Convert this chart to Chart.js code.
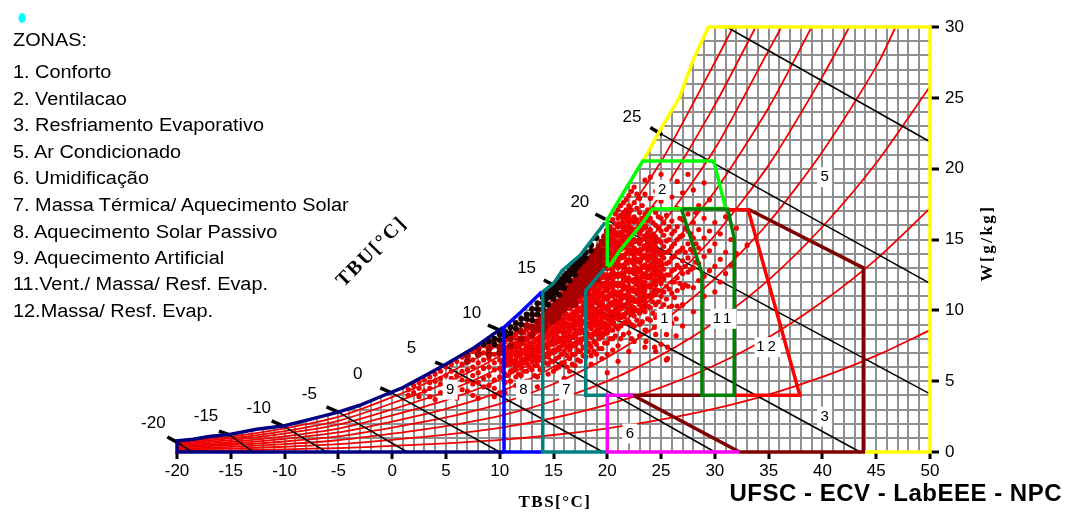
<!DOCTYPE html>
<html lang="pt">
<head>
<meta charset="utf-8">
<title>Carta psicrométrica</title>
<script src="https://cdn.jsdelivr.net/npm/chart.js@4"></script>
<style>
    html, body { margin: 0; padding: 0; background: #fff; }
    #wrap { position: relative; width: 1066px; height: 513px; overflow: hidden; }
    #zonas { position: absolute; left: 13px; top: 0; font-family: "Liberation Sans", Arial, sans-serif; font-size: 18px; color: #000; transform: scaleX(1.105); transform-origin: left top; }
    #zonas div { position: absolute; left: 0; white-space: nowrap; line-height: 20px; }
</style>
</head>
<body>
<div id="wrap">
    <canvas id="carta" width="1066" height="513"></canvas>
    <div id="zonas"></div>
</div>
<script>
// Legend
const zoneNames = [
    "ZONAS:", "1. Conforto", "2. Ventilacao", "3. Resfriamento Evaporativo", "5. Ar Condicionado",
    "6. Umidificação", "7. Massa Térmica/ Aquecimento Solar", "8. Aquecimento Solar Passivo",
    "9. Aquecimento Artificial", "11.Vent./ Massa/ Resf. Evap.", "12.Massa/ Resf. Evap.",
];
const zoneNameY = [40, 72, 99, 125, 152, 178, 205, 232, 258, 284, 311];

// Ticks
const tempTicks = [-20, -15, -10, -5, 0, 5, 10, 15, 20, 25, 30, 35, 40, 45, 50];
const humidityTicks = [0, 5, 10, 15, 20, 25, 30];

// Saturation curve [TBS, W]
const saturation = [
    [-20, 0.78], [-18.5, 0.9], [-17, 1.1], [-15, 1.25], [-12.6, 1.6], [-10, 1.85], [-7.9, 2.25], [-5.1, 2.8],
    [-3, 3.3], [-1.1, 3.9], [1, 4.55], [3.2, 5.45], [5, 6.2], [7.5, 7.3], [10.3, 8.8], [12, 9.9], [13.9, 11.3],
    [15, 11.9], [15.8, 12.8], [17.5, 13.9], [18.1, 14.5], [19.8, 16.2], [21.5, 18.3], [23.3, 20.5], [24.9, 22.7],
    [26.7, 25], [28, 27.7], [29.4, 30],
];

// Relative humidity curves: W at each TBS in rhTemps, last point is where the curve leaves the chart
const rhTemps = [-20, -15, -10, -5, 0, 5, 10, 15, 20, 25, 30, 35, 40, 45, 50];
const rh10 = [0.08, 0.12, 0.19, 0.28, 0.43, 0.61, 0.85, 1.2, 1.67, 2.28, 3.06, 4.05, 5.3, 6.8, 8.6];
const rh20 = [0.16, 0.24, 0.37, 0.55, 0.86, 1.22, 1.7, 2.4, 3.34, 4.56, 6.12, 8.1, 10.6, 13.6, 17.2];
const rh30 = [0.23, 0.36, 0.56, 0.83, 1.29, 1.83, 2.55, 3.6, 5.0, 6.84, 9.18, 12.15, 15.9, 20.4, 25.8];
const rh40 = [0.31, 0.48, 0.74, 1.1, 1.72, 2.44, 3.4, 4.8, 6.68, 9.12, 12.24, 16.2, 21.2, 27.2];
const rh50 = [0.39, 0.6, 0.93, 1.38, 2.15, 3.05, 4.25, 6.0, 8.35, 11.4, 15.3, 20.25, 26.5];
const rh60 = [0.47, 0.72, 1.11, 1.65, 2.58, 3.66, 5.1, 7.2, 10.0, 13.7, 18.4, 24.3];
const rh70 = [0.55, 0.84, 1.3, 1.93, 3.01, 4.27, 5.95, 8.4, 11.7, 16, 21.4, 28.35];
const rh80 = [0.62, 0.96, 1.48, 2.2, 3.44, 4.88, 6.8, 9.6, 13.4, 18.2, 24.5];
const rh90 = [0.7, 1.08, 1.67, 2.48, 3.87, 5.49, 7.65, 10.8, 15, 20.5, 27.5];
const rhExits = [null, null, null, [46.8, 30], [42.5, 30], [39, 30], [36.2, 30], [33.8, 30], [31.7, 30]];

// Wet bulb lines: stub outside the curve, start on the curve, end of the line
const wetBulbValues = [-20, -15, -10, -5, 0, 5, 10, 15, 20, 25];
const wetBulbStubs = [
    [-20.9, 1.06], [-16.1, 1.48], [-11.2, 2.19], [-6.1, 3.18], [-1.1, 4.52], [4, 6.35], [8.9, 8.96], [14.1, 12.14],
    [18.9, 16.8], [24, 22.9],
];
const wetBulbStarts = [
    [-20, 0.7], [-15.1, 1.2], [-10.1, 1.83], [-5, 2.82], [0, 4.16], [5.1, 6], [10, 8.6], [15.2, 11.7], [19.8, 16.44],
    [25.1, 22.4],
];
const wetBulbEnds = [
    [-18.6, 0], [-12.9, 0], [-6.1, 0], [1.4, 0], [10, 0], [19.6, 0], [30, 0], [43.5, 0], [50, 4.1], [50, 11.9],
];
const wetBulb30 = [[31.1, 30], [50, 21.9]];
const wetBulbLabels = [
    [-22.2, 2], [-17.3, 2.5], [-12.4, 3.1], [-7.7, 4.1], [-3.2, 5.5], [1.8, 7.3], [7.4, 9.8], [12.5, 13], [17.45, 17.6],
    [22.3, 23.6],
];

// Hourly readings, one row per TBS column: [TBS, [W, W, ...]]
const readingsCore = [
    [10.5, [7.0, 6.4]], [11, [7.2, 6.5]], [11.5, [7.5, 6.9, 6.2]], [12, [7.7, 7.0, 6.3]], [12.5, [8.0, 7.3, 6.6]],
    [13, [8.3, 7.6, 6.9]], [13.5, [8.6, 7.9, 7.2, 6.5]], [14, [8.8, 8.1, 7.4, 6.7]], [14.5, [9.0, 8.3, 7.6, 6.9]],
    [15, [9.2, 8.5, 7.8, 7.1]], [15.5, [9.4, 8.7, 8.0, 7.3]], [16, [9.8, 9.1, 8.4, 7.7]], [16.5, [10.2, 9.5, 8.8, 8.1, 7.4]],
    [17, [10.4, 9.7, 9.0, 8.3, 7.6]], [17.5, [10.7, 10.0, 9.3, 8.6, 7.9]], [18, [11.2, 10.5, 9.8, 9.1, 8.4]],
    [18.5, [11.7, 11.0, 10.3, 9.6, 8.9, 8.2]], [19, [12.0, 11.3, 10.6, 9.9, 9.2, 8.5]],
    [19.5, [12.5, 11.8, 11.1, 10.4, 9.7, 9.0, 8.3]], [20, [13.0, 12.3, 11.6, 10.9, 10.2, 9.5, 8.8]],
    [20.5, [15.4, 14.7, 14.0, 13.3, 12.6, 11.9, 11.2, 10.5, 9.8, 9.1]],
    [21, [16.0, 15.3, 14.6, 13.9, 13.2, 12.5, 11.8, 11.1, 10.4, 9.7]],
    [21.5, [16.6, 15.9, 15.2, 14.5, 13.8, 13.1, 12.4, 11.7, 11.0, 10.3, 9.6]],
    [22, [17.0, 16.3, 15.6, 14.9, 14.2, 13.5, 12.8, 12.1, 11.4, 10.7, 10.0]],
    [22.5, [16.3, 15.6, 14.9, 14.2, 13.5, 12.8, 12.1, 11.4, 10.7, 10.0]], [23, [15.6, 14.9, 14.2, 13.5, 12.8, 12.1, 11.4, 10.7]],
    [23.5, [15.9, 15.2, 14.5, 13.8, 13.1, 12.4, 11.7, 11.0, 10.3]], [24, [15.2, 14.5, 13.8, 13.1, 12.4, 11.7, 11.0]],
    [24.5, [14.9, 14.2, 13.5, 12.8, 12.1, 11.4]], [25, [14.0, 13.2, 12.4]],
];
const readingsRed = [
    [1.5, [4.4, 4.0]], [2.5, [4.9, 4.5, 3.9]], [3.5, [5.3, 4.9, 4.5, 3.9]], [4.5, [5.7, 5.2, 4.8, 4.2]],
    [5.5, [6.2, 5.7, 5.2, 4.6, 3.9]], [6.5, [6.7, 6.2, 5.7, 5.1, 4.4]], [7.5, [7.1, 6.5, 6.0, 5.4, 4.8, 4.0]],
    [8.5, [7.5, 7.0, 6.5, 5.9, 5.2, 4.6]], [9.5, [7.9, 7.5, 6.9, 6.3, 5.8, 5.1, 4.5, 3.9]],
    [10.5, [8.1, 7.8, 7.2, 6.6, 6.1, 5.5, 4.9, 4.2]], [11, [7.4, 6.8, 6.2, 5.7, 5.0]],
    [11.5, [8.3, 7.7, 7.1, 6.5, 5.9, 5.3, 4.7]], [12, [7.9, 7.2, 6.6, 6.0, 5.4]],
    [12.5, [8.6, 8.0, 7.5, 6.9, 6.3, 5.7, 5.0]], [13, [8.7, 8.1, 7.5, 7.0, 6.4, 5.8]],
    [13.5, [9.2, 8.6, 8.0, 7.4, 6.8, 6.1, 5.3, 4.6]], [14, [9.0, 8.4, 7.8, 7.2, 6.6, 5.9]],
    [14.5, [9.6, 9.1, 8.5, 7.9, 7.3, 6.7, 6.2, 5.5]], [15, [9.4, 8.7, 8.2, 7.6, 7.0, 6.4, 5.7]],
    [15.5, [10.2, 9.6, 9.1, 8.5, 7.8, 7.3, 6.7, 6.0]], [16, [9.9, 9.4, 8.8, 8.2, 7.6, 7.1, 6.3, 5.2]],
    [16.5, [10.7, 10.2, 9.6, 9.0, 8.5, 7.8, 7.2, 6.6, 5.7]], [17, [10.5, 9.9, 9.3, 8.7, 8.1, 7.5, 6.9, 6.1]],
    [17.5, [11.2, 10.7, 10.1, 9.5, 8.9, 8.4, 7.7, 7.1, 6.4]], [18, [11.0, 10.4, 9.8, 9.2, 8.6, 8.0, 7.4, 6.7]],
    [18.5, [12.0, 11.5, 11.0, 10.4, 9.8, 9.2, 8.7, 8.1, 7.4, 6.8, 6.2]],
    [19, [11.8, 11.2, 10.6, 10.0, 9.5, 8.9, 8.3, 7.6, 6.9]],
    [19.5, [12.8, 12.3, 11.7, 11.1, 10.6, 10.0, 9.4, 8.8, 8.1, 7.3, 6.6]],
    [20, [13.1, 12.5, 12.0, 11.4, 10.8, 10.2, 9.6, 9.0, 8.4, 7.7, 6.9, 5.6]],
    [20.5, [16.4, 15.7, 15.1, 14.5, 13.9, 13.3, 12.8, 12.2, 11.6, 11.0, 10.4, 9.8, 9.3, 8.6, 8.0, 7.2]],
    [21, [17.1, 16.5, 15.9, 15.3, 14.7, 14.1, 13.5, 13.0, 12.4, 11.8, 11.2, 10.6, 10.0, 9.4, 8.7, 7.5, 6.4]],
    [21.5, [17.6, 16.9, 16.2, 15.6, 15.0, 14.4, 13.8, 13.2, 12.6, 12.1, 11.5, 10.9, 10.3, 9.7, 9.1, 8.3]],
    [22, [18.1, 17.4, 16.7, 16.0, 15.4, 14.7, 14.1, 13.5, 12.9, 12.3, 11.7, 11.1, 10.5, 9.9, 9.2, 8.4, 7.1]],
    [22.5, [18.7, 17.6, 16.6, 15.7, 15.0, 14.4, 13.8, 13.2, 12.6, 12.0, 11.4, 10.8, 10.2, 9.6, 8.9, 7.8]],
    [23, [17.9, 16.9, 16.1, 15.4, 14.7, 14.0, 13.4, 12.8, 12.2, 11.6, 11.0, 10.4, 9.8, 9.0, 8.2]],
    [23.5, [19.2, 18.2, 16.8, 15.9, 15.2, 14.5, 13.9, 13.2, 12.6, 12.0, 11.4, 10.7, 9.9, 8.6, 7.4]],
    [24, [19.4, 17.9, 16.5, 15.7, 15.0, 14.3, 13.7, 13.0, 12.3, 11.7, 11.0, 10.2, 9.3]],
    [24.5, [18.4, 16.9, 16.0, 15.2, 14.5, 13.8, 13.1, 12.5, 11.8, 11.1, 10.4, 9.5, 8.3, 7.1]],
    [25, [19.6, 17.7, 16.5, 15.6, 14.8, 14.0, 13.4, 12.6, 11.9, 11.0, 10.1, 9.0, 7.6]],
    [25.5, [18.7, 16.7, 15.7, 14.9, 14.1, 13.3, 12.5, 11.7, 10.8, 9.6, 8.3, 6.5]],
    [26, [18.0, 16.3, 15.4, 14.5, 13.7, 12.8, 12.0, 11.2, 10.3, 9.1]],
    [26.5, [19.1, 17.2, 15.9, 15.0, 14.1, 13.2, 12.3, 11.4, 10.3]],
    [27, [18.3, 16.4, 15.3, 14.4, 13.5, 12.6, 11.6, 10.4, 8.9]],
    [27.5, [19.6, 16.8, 15.6, 14.7, 13.7, 12.7, 11.7]], [28, [18.5, 16.2, 15.1, 14.1, 13.0, 11.6, 9.9]],
    [28.5, [17.4, 15.7, 14.4, 13.3, 12.1]], [29, [19.0, 16.5, 15.1, 13.8, 12.4, 11.0]],
    [29.5, [17.8, 15.6, 14.2, 12.8]], [30, [16.2, 14.7, 13.1, 11.3]], [30.5, [15.4, 13.6, 12.0]],
    [31, [16.6, 14.1, 12.6]], [31.5, [15.0, 13.2]], [32, [15.8, 14.0]], [33, [14.6]],
    // second pass, between the columns above
    [10.25, [7.6, 7.0, 6.3, 5.7]], [10.75, [8.0, 7.4, 6.8, 6.2, 5.4]], [11.25, [8.1, 7.6, 7.0, 6.4, 5.8]],
    [11.75, [8.5, 8.0, 7.4, 6.8, 6.2, 5.5]], [12.25, [8.4, 7.7, 7.0, 6.3, 5.7]], [12.75, [8.9, 8.3, 7.7, 7.2, 6.6, 6.0]],
    [13.25, [8.9, 8.4, 7.8, 7.2, 6.7, 6.1, 5.4]], [13.75, [9.4, 8.8, 8.2, 7.7, 7.1, 6.5, 5.8]],
    [14.25, [9.3, 8.7, 8.1, 7.5, 6.9, 6.3]], [14.75, [9.9, 9.3, 8.8, 8.2, 7.6, 7.0, 6.4]],
    [15.25, [9.9, 9.4, 8.9, 8.3, 7.7, 7.2, 6.6, 5.9]], [15.75, [10.4, 9.8, 9.3, 8.8, 8.0, 7.5, 6.9, 6.3]],
    [16.25, [10.3, 9.7, 9.1, 8.5, 8.0, 7.4, 6.8, 6.0]], [16.75, [10.9, 10.4, 9.8, 9.3, 8.7, 8.1, 7.5, 6.9, 6.2]],
    [17.25, [10.8, 10.2, 9.6, 9.0, 8.4, 7.8, 7.2, 6.5]], [17.75, [11.5, 11.0, 10.3, 9.7, 9.1, 8.6, 8.0, 7.4, 6.8]],
    [18.25, [11.3, 10.7, 10.1, 9.5, 8.9, 8.3, 7.7, 7.1]], [18.75, [12.2, 11.6, 11.2, 10.7, 10.1, 9.5, 9.0, 8.4, 7.8, 7.1]],
    [19.25, [12.1, 11.5, 10.9, 10.3, 9.7, 9.2, 8.6, 8.0, 7.3]], [19.75, [13.0, 12.5, 11.9, 11.4, 10.8, 10.2, 9.7, 9.1, 8.5, 7.7]],
    [20.25, [15.9, 15.3, 14.8, 14.2, 13.6, 13.0, 12.4, 11.7, 11.1, 10.5, 9.9, 9.3, 8.7, 8.0]],
    [20.75, [16.8, 16.1, 15.5, 14.9, 14.3, 13.7, 13.1, 12.5, 11.9, 11.3, 10.7, 10.1, 9.5, 8.9, 8.2]],
    [21.25, [17.4, 16.7, 16.1, 15.5, 14.9, 14.3, 13.7, 13.1, 12.5, 11.9, 11.3, 10.7, 10.1, 9.5, 8.9, 8.0]],
    [21.75, [17.8, 17.1, 16.5, 15.8, 15.2, 14.6, 14.0, 13.4, 12.8, 12.2, 11.6, 11.0, 10.4, 9.8, 9.1]],
    [22.25, [18.4, 17.1, 16.4, 15.8, 15.2, 14.6, 14.0, 13.4, 12.7, 12.1, 11.5, 10.9, 10.3, 9.7, 9.0, 8.0]],
    [22.75, [18.2, 17.2, 16.4, 15.6, 14.9, 14.2, 13.6, 13.0, 12.4, 11.8, 11.2, 10.6, 10.0, 9.3]],
    [23.25, [17.4, 16.5, 15.7, 15.0, 14.3, 13.7, 13.1, 12.5, 11.9, 11.3, 10.7, 10.0, 9.2]],
    [23.75, [17.1, 16.3, 15.5, 14.8, 14.2, 13.5, 12.9, 12.3, 11.7, 11.0, 10.3, 9.4]],
    [24.25, [17.2, 16.2, 15.4, 14.7, 14.0, 13.4, 12.7, 12.0, 11.3, 10.6, 9.8]],
    [24.75, [16.6, 15.8, 15.0, 14.2, 13.5, 12.8, 12.1, 11.4, 10.6, 9.7]],
    [25.25, [16.2, 15.3, 14.5, 13.7, 12.9, 12.2, 11.3, 10.4]], [25.75, [15.9, 15.0, 14.2, 13.4, 12.5, 11.5, 10.2]],
    [26.25, [15.6, 14.7, 13.8, 12.9, 12.0, 10.9]], [26.75, [16.5, 15.2, 14.2, 13.0, 11.9]],
    [27.25, [15.8, 14.1, 13.1, 11.8]], [27.75, [15.4, 14.3, 12.9]], [28.25, [16.9, 14.7, 13.4]],
    // low and isolated readings
    [2, [4.7, 4.2]], [3, [5.1, 4.3]], [4, [5.5, 5.0, 3.7]], [5, [6.0, 5.4, 4.2]], [6, [6.4, 5.4, 3.8]], [7, [6.9, 5.8, 5.0, 4.3]],
    [8, [7.2, 6.3, 5.6, 4.9, 3.8]], [9, [7.6, 6.6, 6.0, 5.4, 4.7]], [10, [6.5, 5.9, 5.3, 4.2]],
    [23.6, [8.6, 7.8]], [24.4, [8.8, 7.4]], [25.6, [7.4, 6.6]], [26.4, [9.4, 8.2]],
];
const readingsDark = [
    [7, [6.8, 6.4]], [8, [7.3, 6.9]], [9, [7.3, 6.9]], [10, [7.4, 7.0]], [11, [8.0, 7.5]], [12, [8.5, 8.0]],
    [12.5, [8.9]], [13, [8.8, 8.3]], [13.5, [9.2, 8.7]], [14, [9.6, 9.1, 8.6]], [14.5, [9.9, 9.4]],
    [15, [10.3, 9.8, 9.3]], [15.5, [10.6, 10.1, 9.6]], [16, [11.1, 10.6, 10.1]], [16.5, [11.6, 11.1, 10.6]],
    [17, [12.0, 11.5, 11.0, 10.5]], [17.5, [12.8, 12.3, 11.8, 11.3]], [18, [13.2, 12.7, 12.2, 11.7, 11.2]],
    [18.5, [13.7, 13.2, 12.7, 12.2]], [19, [14.2, 13.7, 13.2, 12.7, 12.2]], [19.5, [14.8, 14.2, 13.7, 13.2]],
    [20, [15.6, 15.0, 14.5, 14.0, 13.5]],
    [14.25, [9.8, 9.3, 8.8]], [14.75, [10.2, 9.7, 9.2]], [15.25, [10.5, 10.0, 9.5]], [15.75, [11.0, 10.5, 10.0]],
    [16.25, [11.4, 10.9, 10.4]], [16.75, [11.9, 11.4, 10.9, 10.4]], [17.25, [12.6, 12.1, 11.6, 11.1]],
    [17.75, [13.0, 12.5, 12.0, 11.5]], [18.25, [13.5, 13.0, 12.5, 12.0]], [18.75, [14.0, 13.5, 13.0, 12.5]],
    [19.25, [14.5, 14.0, 13.5, 13.0]], [19.75, [15.2, 14.7, 14.2, 13.7, 13.2]],
];
const readingsBlack = [
    [8.5, [7.6]], [9, [7.8]], [9.5, [8.0, 7.6]], [10, [8.3, 7.9]], [10.5, [8.5, 8.2]], [11, [8.8, 8.4]],
    [11.5, [9.1, 8.7]], [12, [9.4, 9.0]], [12.5, [9.7, 9.4]], [13, [10.1, 9.7, 9.3]], [13.5, [10.5, 10.1, 9.7]],
    [14, [10.9, 10.5, 10.1]], [14.5, [11.2, 10.9, 10.4]], [15, [11.5, 11.2, 10.8]], [15.5, [12.0, 11.6, 11.1]],
    [16, [12.4, 12.0, 11.6]], [16.5, [12.8, 12.5, 12.1]], [17, [13.2, 12.9, 12.5]], [17.5, [13.6, 13.3]],
    [18, [14.1, 13.7]], [18.5, [14.6, 14.2]], [19, [15.1]],
    [14.25, [11.1, 10.7]], [14.75, [11.4, 11.0]], [15.25, [11.8, 11.4]], [15.75, [12.2, 11.8]], [16.25, [12.6, 12.3]],
    [16.75, [13.0, 12.7]], [17.25, [13.4, 13.1]], [17.75, [13.8, 13.5]],
];

// Zone outlines [TBS, W]
const zone9Navy = [[10.4, 0], [-20, 0], [-20, 0.78], [-18.5, 0.9], [-17, 1.1], [-15, 1.25], [-12.6, 1.6], [-10, 1.85],
    [-7.9, 2.25], [-5.1, 2.8], [-3, 3.3], [-1.1, 3.9], [1, 4.55], [3.2, 5.45], [5, 6.2], [7.5, 7.3], [10.3, 8.8]];
const zone8Blue = [[14, 0], [10.4, 0], [10.4, 8.8], [12, 9.9], [13.9, 11.3]];
const zone7Teal = [[20, 0], [14, 0], [14, 11.3], [15, 11.9], [15.8, 12.8], [17.5, 13.9], [18.1, 14.5], [19.8, 16.2]];
const zone7Inner = [[20, 4], [18, 4], [18, 11.4], [19.8, 13]];
const zone6Magenta = [[22.4, 4], [20, 4], [20, 0], [32.3, 0]];
const zone3Maroon = [[28.8, 4], [22.4, 4], [32.3, 0], [43.8, 0], [43.8, 13], [33.2, 17.1], [32.5, 17.1]];
const zone12Red = [[31.8, 4], [37.9, 4], [33.1, 17.1], [31, 17.1]];
const zone2Green = [[20, 13.1], [20, 16.4], [21.5, 18.3], [23.3, 20.55], [29.9, 20.55], [31, 17.2], [24.2, 17.15], [23, 15.9],
    [21.2, 14.25], [20.3, 13.2], [20, 13.1]];
const zone11Green = [[26.9, 17.15], [28.8, 12.6], [28.8, 4], [31.8, 4], [31.8, 15.1], [31.2, 17.15], [26.9, 17.15]];
const zone5Yellow = [[23.3, 20.5], [24.9, 22.7], [26.7, 25], [28, 27.7], [29.4, 30], [50, 30], [50, 0], [43.8, 0]];

// Zone numbers inside the chart
const zoneLabels = ["1", "2", "3", "5", "6", "7", "8", "9", "11", "12"];
const zoneLabelPos = [
    [25.3, 9.4], [25.1, 18.5], [40.2, 2.5], [40.2, 19.4], [22.1, 1.3], [16.2, 4.4], [12.2, 4.4], [5.4, 4.4], [30.8, 9.4], [34.9, 7.4],
];

const toXY = p => ({ x: p[0], y: p[1] });
const flatReadings = rows => rows.flatMap(([t, list]) => list.map(w => ({ x: t, y: w })));

function lineSet(label, pts, color, width) {
    return {
        label,
        data: pts.map(toXY),
        showLine: true,
        borderColor: color,
        borderWidth: width,
        pointRadius: 0,
        tension: 0,
        fill: false,
        clip: 4,
        borderJoinStyle: "miter",
        borderCapStyle: "butt",
    };
}

function rhSet(values, exit, i) {
    const pts = values.map((w, k) => [rhTemps[k], w]);
    if (exit) pts.push(exit);
    const ds = lineSet("UR " + (i + 1) * 10, pts, "#f00000", 1.8);
    ds.tension = 0.25;
    ds.clip = 0;
    return ds;
}

function readingSet(label, rows, color, radius) {
    return { label, data: flatReadings(rows), showLine: false, clip: 4, pointRadius: radius, pointBorderWidth: 0, pointBackgroundColor: color };
}

const datasets = [];

// White mask above the saturation curve hides the grid in the empty corner
const mask = lineSet("mask", saturation, "rgba(0,0,0,0)", 0);
mask.fill = "end";
mask.backgroundColor = "#ffffff";
datasets.push(mask);

[rh10, rh20, rh30, rh40, rh50, rh60, rh70, rh80, rh90].forEach((v, i) => datasets.push(rhSet(v, rhExits[i], i)));

wetBulbValues.forEach((v, i) => {
    datasets.push(lineSet("TBU " + v, [wetBulbStarts[i], wetBulbEnds[i]], "#000000", 1.5));
    const stub = lineSet("TBU stub " + v, [wetBulbStubs[i], wetBulbStarts[i]], "#000000", 3.5);
    stub.clip = false;   // stubs stick out past the -20 edge
    datasets.push(stub);
});
datasets.push(lineSet("TBU 30", wetBulb30, "#000000", 1.5));

datasets.push(readingSet("leituras centro", readingsCore, "#e80000", 3.5));
datasets.push(readingSet("leituras", readingsRed, "#f00000", 2.6));
datasets.push(readingSet("leituras densas", readingsDark, "#a80000", 3.5));
datasets.push(readingSet("leituras muito densas", readingsBlack, "#180000", 3));

datasets.push(lineSet("zona 5", zone5Yellow, "#ffff00", 3.5));
datasets.push(lineSet("zona 9", zone9Navy, "#000080", 3.5));
datasets.push(lineSet("zona 8", zone8Blue, "#0000ff", 3.5));
datasets.push(lineSet("zona 7", zone7Teal, "#008080", 3.5));
datasets.push(lineSet("zona 7 interna", zone7Inner, "#008080", 3.5));
datasets.push(lineSet("zona 3", zone3Maroon, "#800000", 3.5));
datasets.push(lineSet("zona 12", zone12Red, "#ff0000", 3.5));
datasets.push(lineSet("zona 6", zone6Magenta, "#ff00ff", 3.5));
datasets.push(lineSet("zona 2", zone2Green, "#00ff00", 3.5));
datasets.push(lineSet("zona 11", zone11Green, "#008000", 3.5));

// Chart.js draws the first dataset last, so flip the list to paint mask first and zones on top
datasets.reverse();

// Everything that is not an axis tick: numbers on the isolines, zone numbers, axis titles, credits
const chartText = {
    id: "chartText",
    afterDatasetsDraw(chart) {
        const { ctx, scales: { x, y } } = chart;
        ctx.save();
        ctx.textAlign = "center";
        ctx.textBaseline = "middle";
        ctx.fillStyle = "#000";

        ctx.font = '17px "Liberation Sans", Arial, sans-serif';
        wetBulbValues.forEach((v, i) => {
            ctx.fillText(String(v), x.getPixelForValue(wetBulbLabels[i][0]), y.getPixelForValue(wetBulbLabels[i][1]));
        });

        ctx.font = '15px "Liberation Sans", Arial, sans-serif';
        zoneLabels.forEach((txt, i) => {
            const px = x.getPixelForValue(zoneLabelPos[i][0]);
            const py = y.getPixelForValue(zoneLabelPos[i][1]);
            const w = txt.length > 1 ? 26 : 15;
            ctx.fillStyle = "#fff";
            ctx.fillRect(px - w / 2, py - 10, w, 20);
            ctx.fillStyle = "#000";
            ctx.letterSpacing = txt.length > 1 ? "3px" : "0px";
            ctx.fillText(txt, px, py);
            ctx.letterSpacing = "0px";
        });

        ctx.font = 'bold 17px "Liberation Serif", serif';
        ctx.letterSpacing = "1.5px";
        ctx.fillText("TBS[°C]", 555, 503);

        ctx.save();
        ctx.translate(988, 243);
        ctx.rotate(-Math.PI / 2);
        ctx.letterSpacing = "2.5px";
        ctx.fillText("W[g/kg]", 0, 0);
        ctx.restore();

        ctx.save();
        ctx.font = 'bold 20px "Liberation Serif", serif';
        ctx.letterSpacing = "2px";
        ctx.translate(372, 252);
        ctx.rotate(-Math.PI / 4);
        ctx.fillText("TBU[°C]", 0, 0);
        ctx.restore();

        ctx.letterSpacing = "0.5px";
        ctx.font = 'bold 24px "Liberation Sans", Arial, sans-serif';
        ctx.textAlign = "right";
        ctx.fillText("UFSC - ECV - LabEEE - NPC", 1062, 494);
        ctx.restore();

        // small cyan mark top left
        ctx.save();
        ctx.fillStyle = "#00ffff";
        ctx.beginPath();
        ctx.ellipse(22, 18, 3.5, 5, 0, 0, Math.PI * 2);
        ctx.fill();
        ctx.restore();
    },
};

const legendBox = document.getElementById("zonas");
zoneNames.forEach((name, i) => {
    const row = document.createElement("div");
    row.textContent = name;
    row.style.top = (zoneNameY[i] - 10) + "px";
    legendBox.appendChild(row);
});

const tickFont = { family: '"Liberation Sans", Arial, sans-serif', size: 17 };
const isMajor = ctx => ctx.tick && ctx.tick.value % 5 === 0;
// Edge lines at -20 and W=30 would stick out of the white mask; the zone outlines replace them
const gridColor = edge => ctx => (ctx.tick && ctx.tick.value === edge ? "rgba(0,0,0,0)" : "#909090");

new Chart(document.getElementById("carta").getContext("2d"), {
    type: "scatter",
    data: { datasets },
    plugins: [chartText],
    options: {
        responsive: false,
        animation: false,
        layout: { padding: { left: 177, top: 27, right: 0, bottom: 0 } },
        plugins: { legend: { display: false }, tooltip: { enabled: false } },
        scales: {
            x: {
                type: "linear",
                min: tempTicks[0],
                max: tempTicks[tempTicks.length - 1],
                afterFit: s => { s.height = 61; },
                border: { display: false },
                grid: {
                    color: gridColor(-20),
                    lineWidth: 2,
                    tickColor: c => (isMajor(c) ? "#000" : "rgba(0,0,0,0)"),
                    tickWidth: 3,
                    tickLength: 7,
                },
                ticks: {
                    stepSize: 1,
                    autoSkip: false,
                    maxRotation: 0,
                    color: "#000",
                    font: tickFont,
                    padding: 2,
                    callback: v => (tempTicks.includes(v) ? String(v) : ""),
                },
            },
            y: {
                type: "linear",
                position: "right",
                min: humidityTicks[0],
                max: humidityTicks[humidityTicks.length - 1],
                afterFit: s => { s.width = 136; },
                border: { display: false },
                grid: {
                    color: gridColor(30),
                    lineWidth: 2,
                    tickColor: c => (isMajor(c) ? "#000" : "rgba(0,0,0,0)"),
                    tickWidth: 3,
                    tickLength: 9,
                },
                ticks: {
                    stepSize: 1,
                    autoSkip: false,
                    color: "#000",
                    font: tickFont,
                    padding: 6,
                    callback: v => (humidityTicks.includes(v) ? String(v) : ""),
                },
            },
        },
    },
});
</script>
</body>
</html>
